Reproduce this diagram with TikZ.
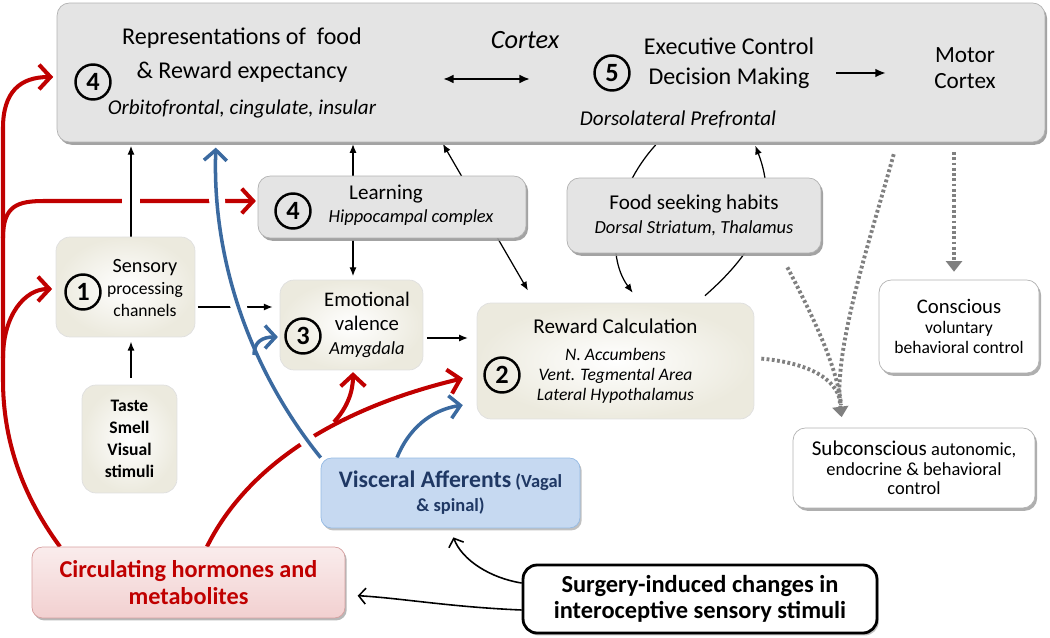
\documentclass[tikz,border=0pt]{standalone}
\usepackage{fontspec}
\setmainfont{Carlito}
\usetikzlibrary{arrows.meta,shadows,calc}
\definecolor{boxgray}{RGB}{228,228,228}
\definecolor{cream}{RGB}{236,234,222}
\definecolor{hormred}{RGB}{192,0,0}
\definecolor{vagblue}{RGB}{59,106,160}
\definecolor{visfill}{RGB}{198,217,241}
\definecolor{visdraw}{RGB}{149,186,228}
\definecolor{vistext}{RGB}{31,56,100}
\definecolor{pinkfill}{RGB}{242,208,208}
\definecolor{pinkdraw}{RGB}{214,160,160}
\pgfdeclarelayer{background}
\pgfsetlayers{background,main}
\tikzset{
	graybox/.style={draw=gray!60, fill=boxgray, rounded corners=7pt,
		drop shadow={shadow xshift=1.2pt, shadow yshift=-1.6pt, fill=gray!80, opacity=.9}},
	creambox/.style={draw=gray!25, rounded corners=8pt, inner color=white, outer color=cream},
	whitebox/.style={draw=gray!60, fill=white, rounded corners=7pt,
		drop shadow={shadow xshift=1.2pt, shadow yshift=-1.6pt, fill=gray!70, opacity=.9}},
	num/.style={circle, draw, line width=1.4pt, minimum size=.7cm, inner sep=0pt,
		font=\bfseries\fontsize{15}{15}\selectfont},
	arr/.style={-{Latex[length=5pt,width=4pt]}, line width=.7pt},
	arrtwo/.style={{Latex[length=5pt,width=4pt]}-{Latex[length=5pt,width=4pt]}, line width=.7pt},
	hormarr/.style={-{Straight Barb[length=6.5pt,width=14pt]}, hormred, line width=2.3pt},
	vagarr/.style={-{Straight Barb[length=6pt,width=13pt]}, vagblue, line width=2pt},
	dotarr/.style={-{Triangle[length=6pt,width=9pt]}, gray, line width=2.2pt, dash pattern=on 1.6pt off 1.4pt},
	dotline/.style={gray, line width=2.2pt, dash pattern=on 1.6pt off 1.4pt},
	surgarr/.style={-{Straight Barb[length=4pt,width=9pt]}, line width=.9pt},
	whitegap/.style={preaction={draw=white, -, line width=#1}}
}
\newcommand\areafont{\fontsize{10}{11.3}\selectfont\itshape}
\begin{document}
\begin{tikzpicture}[x=0.02cm, y=-0.02cm]
	\useasboundingbox (0,0) rectangle (1050,638);

	% boxes
	\node[graybox, minimum width=19.76cm, minimum height=2.78cm] (cortex) at (551,72.5) {};
	\node[graybox, minimum width=5.36cm, minimum height=1.24cm] (learn) at (392,207) {};
	\node[graybox, minimum width=5.08cm, minimum height=1.5cm, align=center,
		font=\fontsize{12}{14}\selectfont] (food) at (694,215.5)
		{Food seeking habits\\ \fontsize{10.5}{14}\selectfont\itshape Dorsal Striatum, Thalamus};
	\node[creambox, minimum width=2.78cm, minimum height=2cm] (sens) at (125.5,287) {};
	\node[creambox, minimum width=1.9cm, minimum height=2.16cm, align=center,
		font=\bfseries\fontsize{10}{12.5}\selectfont] (taste) at (129.5,439) {Taste\\Smell\\Visual\\stimuli};
	\node[creambox, minimum width=2.86cm, minimum height=1.8cm] (emo) at (351.5,325) {};
	\node[creambox, minimum width=5.54cm, minimum height=2.32cm, align=center,
		font=\fontsize{12}{11.3}\selectfont] (reward) at (615.5,361)
		{Reward Calculation\\[4pt] \areafont N. Accumbens\\ \areafont Vent. Tegmental Area\\ \areafont Lateral Hypothalamus};
	\node[whitebox, minimum width=3.2cm, minimum height=1.86cm, align=center,
		font=\fontsize{10}{11.3}\selectfont] (consc) at (959,326.5)
		{{\fontsize{11.8}{13}\selectfont Conscious}\\ voluntary\\ behavioral control};
	\node[whitebox, minimum width=4.84cm, minimum height=1.6cm, align=center,
		font=\fontsize{10.5}{11}\selectfont] (subc) at (914,468)
		{{\fontsize{12}{13}\selectfont Subconscious} autonomic,\\ endocrine \& behavioral\\ control};
	\node[draw=visdraw, fill=visfill, rounded corners=6pt, minimum width=5.18cm, minimum height=1.4cm,
		drop shadow={shadow xshift=1pt, shadow yshift=-1.4pt, fill=gray!60, opacity=.8},
		align=center, text=vistext, font=\bfseries\fontsize{10.5}{13.6}\selectfont] (visc) at (450.5,493)
		{{\fontsize{13.5}{15}\selectfont Visceral Afferents} (Vagal\\ \& spinal)};
	\node[draw=pinkdraw, top color=pinkfill!40, bottom color=pinkfill, rounded corners=6pt,
		minimum width=6.26cm, minimum height=1.42cm,
		drop shadow={shadow xshift=1pt, shadow yshift=-1.4pt, fill=gray!70, opacity=.8},
		align=center, text=hormred, font=\bfseries\fontsize{13.8}{15.3}\selectfont] (circ) at (188.5,582.5)
		{Circulating hormones and\\ metabolites};
	\node[draw, fill=white, line width=1.6pt, rounded corners=8pt, minimum width=7.08cm, minimum height=1.36cm,
		drop shadow={shadow xshift=1pt, shadow yshift=-1.4pt, fill=gray!60, opacity=.8},
		align=center, font=\bfseries\fontsize{13.9}{14.7}\selectfont] (surg) at (700,599)
		{Surgery-induced changes in\\ interoceptive sensory stimuli};

	% texts in the boxes
	\node[align=center, font=\fontsize{13.7}{19.5}\selectfont] (rep) at (242,73)
		{Representations of\ \ food\\ \& Reward expectancy\\[1pt] \fontsize{12}{19.5}\selectfont\itshape Orbitofrontal, cingulate, insular};
	\node[font=\fontsize{15}{15}\selectfont\itshape] (ctx) at (525,40) {Cortex};
	\node[align=center, font=\fontsize{13.7}{17}\selectfont] (exec) at (729,63) {Executive Control\\ Decision Making};
	\node[font=\fontsize{12}{13}\selectfont\itshape] (dlpf) at (678,119) {Dorsolateral Prefrontal};
	\node[align=center, font=\fontsize{13.2}{15}\selectfont] (motor) at (965,68) {Motor\\ Cortex};
	\node[align=center, font=\fontsize{12}{13}\selectfont] (learntxt) at (411,205)
		{Learning\hspace*{1cm}\\ \fontsize{10.5}{13}\selectfont\itshape Hippocampal complex};
	\node[align=center, font=\fontsize{10}{12.3}\selectfont] (senstxt) at (145,288)
		{{\fontsize{11.5}{12}\selectfont Sensory}\\ processing\\ channels};
	\node[align=center, font=\fontsize{11.8}{13.5}\selectfont] (emotxt) at (367,325)
		{Emotional\\ valence\\ \fontsize{10.5}{13.5}\selectfont\itshape Amygdala};

	% numbers
	\node[num] (nfour) at (93,82) {4};
	\node[num] (nfive) at (612,73) {5};
	\node[num] (nlearn) at (293,211) {4};
	\node[num] (none) at (83,292) {1};
	\node[num] (nthree) at (303,336) {3};
	\node[num] (ntwo) at (502,375) {2};

	% inside the cortex
	\coordinate (ctxl) at (443,79);
	\coordinate (ctxr) at (530,79);
	\draw[{Latex[length=6pt,width=5pt]}-{Latex[length=6pt,width=5pt]}, line width=1.2pt] (ctxl) -- (ctxr);
	\draw[-{Latex[length=6pt,width=5pt]}, line width=1.4pt, shorten <=9pt, shorten >=24pt]
		(exec.east |- 0,73) -- (motor.west |- 0,73);

	\coordinate (trA) at (3,358);
	\coordinate (trB) at (3,238);
	\coordinate (rbranch) at (334,422);
	\coordinate (bbranch) at (254,355);

	\begin{pgfonlayer}{background}
		% hormones
		\draw[hormarr, shorten >=2pt] (circ.north -| 60,0) .. controls (22,495) and (3,440) .. (3,380)
			-- (3,128) .. controls (3,92) and (20,77) .. (cortex.west |- 0,77);
		\draw[hormarr, shorten >=2pt] (trA) .. controls (3,315) and (25,289) .. (sens.west |- 0,289);
		\draw[hormarr, shorten >=1pt] (trB) .. controls (3,205) and (18,201) .. (45,201) -- (learn.west |- 0,201);
		\draw[hormarr, shorten >=8pt] (circ.north -| 207,0) .. controls (245,470) and (330,410) .. (reward.west |- 0,375);
		\draw[hormarr, shorten >=1pt] (rbranch) .. controls (347,408) and (353,392) .. (emo.south -| 353,0);

		% black arrows
		\draw[arr, whitegap=10pt, shorten >=2pt] (sens.north -| 131,0) -- (cortex.south -| 131,0);
		\draw[arr, shorten <=4pt, shorten >=2.5pt] (taste.north -| 131,0) -- (sens.south -| 131,0);
		\draw[arr, shorten <=1.5pt, shorten >=4pt] (sens.east |- 0,307) -- (emo.west |- 0,307);
		\draw[arr, shorten >=1pt] (learn.north -| 353,0) -- (cortex.south -| 353,0);
		\draw[arr, shorten <=1pt, shorten >=2pt] (learn.south -| 353,0) -- (emo.north -| 353,0);
		\draw[arr, shorten <=2pt, shorten >=5pt] (emo.east |- 0,338) -- (reward.west |- 0,338);
		\draw[arrtwo, shorten <=1pt, shorten >=8pt] (cortex.south -| 442,0) -- (reward.north -| 535,0);
		\draw[arr, shorten <=2pt, shorten >=7pt] (cortex.south -| 658,0) .. controls (613,192) and (605,255) .. (reward.north -| 640,0);
		\draw[arr, shorten <=6pt, shorten >=2pt] (reward.north -| 697,0) .. controls (757,250) and (779,207) .. (cortex.south -| 754,0);

		% visceral afferents
		\draw[vagarr, whitegap=9pt, shorten >=3pt] (visc.north west) .. controls (250,370) and (212,260) .. (cortex.south -| 216,0);
		\draw[vagarr, shorten >=1pt] (bbranch) .. controls (254,342) and (262,337) .. (emo.west |- 0,337);
		\draw[vagarr, shorten >=8pt] (visc.north -| 397,0) .. controls (408,430) and (430,410) .. (reward.west |- 0,403);

		% output
		\draw[dotarr, shorten <=5.5pt, shorten >=4.5pt] (cortex.south -| 954,0) -- (consc.north -| 954,0);
		\draw[dotarr, shorten <=7pt, shorten >=6pt] (cortex.south -| 897,0) .. controls (870,240) and (833,350) .. (subc.north -| 843,0);
		\draw[dotline, shorten <=9pt, shorten >=13pt] (food.south -| 780,0) .. controls (815,320) and (838,370) .. (subc.north -| 843,0);
		\draw[dotline, shorten <=4pt, shorten >=13pt] (reward.east |- 0,358) .. controls (800,362) and (838,375) .. (subc.north -| 843,0);

		% surgery
		\draw[surgarr, shorten >=5.5pt] (surg.west |- 0,583) .. controls (490,578) and (462,560) .. (visc.south -| 450,0);
		\draw[surgarr, shorten >=7pt] (surg.west |- 0,610) .. controls (450,607) and (400,598) .. (circ.east |- 0,595);
	\end{pgfonlayer}
\end{tikzpicture}
\end{document}
